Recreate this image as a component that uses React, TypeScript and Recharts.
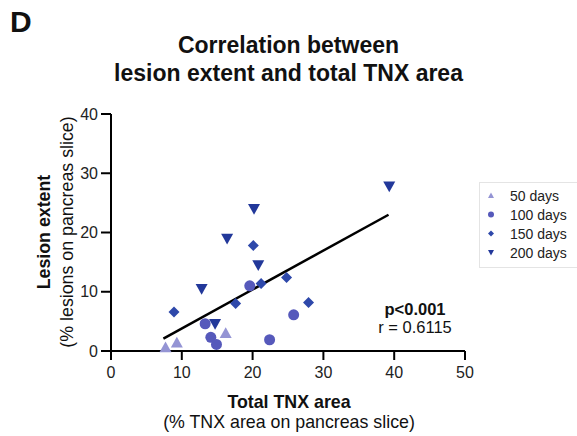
import React from "react";
import { ScatterChart, Scatter, XAxis, YAxis } from "recharts";

// [total TNX area %, lesion extent %]
const days50 = [
  { x: 7.7, y: 0.6 },
  { x: 9.3, y: 1.4 },
  { x: 16.2, y: 3.0 },
];
const days100 = [
  { x: 13.3, y: 4.6 },
  { x: 14.1, y: 2.3 },
  { x: 14.9, y: 1.1 },
  { x: 19.6, y: 11.0 },
  { x: 22.4, y: 1.9 },
  { x: 25.8, y: 6.1 },
];
const days150 = [
  { x: 8.9, y: 6.6 },
  { x: 17.6, y: 8.0 },
  { x: 20.1, y: 17.8 },
  { x: 21.2, y: 11.4 },
  { x: 24.8, y: 12.4 },
  { x: 27.9, y: 8.2 },
];
const days200 = [
  { x: 12.8, y: 10.5 },
  { x: 14.7, y: 4.6 },
  { x: 16.4, y: 19.0 },
  { x: 20.2, y: 24.0 },
  { x: 20.8, y: 14.5 },
  { x: 39.3, y: 27.8 },
];
const fitLine = [
  { x: 7.4, y: 2.1 },
  { x: 39.2, y: 23.0 },
];
const xTicks = [0, 10, 20, 30, 40, 50];
const yTicks = [0, 10, 20, 30, 40];

const C50 = "#9494d4";
const C100 = "#5659bb";
const C150 = "#2e48aa";
const C200 = "#22389a";
const FONT = "Arial, 'Liberation Sans', Helvetica, sans-serif";

const Tri = ({ cx, cy, fill, s = 6 }: any) => (
  <path d={`M${cx},${cy - s} L${cx + s},${cy + s * 0.8} L${cx - s},${cy + s * 0.8} Z`} fill={fill} />
);
const DownTri = ({ cx, cy, fill, s = 6 }: any) => (
  <path d={`M${cx - s},${cy - s * 0.8} L${cx + s},${cy - s * 0.8} L${cx},${cy + s} Z`} fill={fill} />
);
const Dot = ({ cx, cy, fill, s = 5.5 }: any) => <circle cx={cx} cy={cy} r={s} fill={fill} />;
const Diamond = ({ cx, cy, fill, s = 5.5 }: any) => (
  <path d={`M${cx},${cy - s} L${cx + s},${cy} L${cx},${cy + s} L${cx - s},${cy} Z`} fill={fill} />
);

const legendItems = [
  { label: "50 days", color: C50, Shape: Tri },
  { label: "100 days", color: C100, Shape: Dot },
  { label: "150 days", color: C150, Shape: Diamond },
  { label: "200 days", color: C200, Shape: DownTri },
];

export default function App() {
  return (
    <div style={{ position: "absolute", left: 0, top: 0, width: 577, height: 436, background: "#fff", fontFamily: FONT, color: "#111" }}>
      <div style={{ position: "absolute", left: 10, top: 5, fontSize: 30, fontWeight: 700 }}>D</div>
      <div
        style={{
          position: "absolute",
          left: 0,
          width: 577,
          top: 31,
          textAlign: "center",
          fontSize: 23,
          fontWeight: 700,
          lineHeight: "28px",
        }}
      >
        Correlation between
        <br />
        lesion extent and total TNX area
      </div>

      <ScatterChart width={577} height={436} margin={{ top: 114, right: 112, bottom: 55, left: 71 }}>
        <XAxis
          type="number"
          dataKey="x"
          domain={[0, 50]}
          ticks={xTicks}
          height={30}
          axisLine={{ stroke: "#000", strokeWidth: 2 }}
          tickLine={{ stroke: "#000", strokeWidth: 2 }}
          tickSize={9}
          tickMargin={7}
          tick={{ fill: "#222", fontSize: 16, fontFamily: FONT }}
        />
        <YAxis
          type="number"
          dataKey="y"
          domain={[0, 40]}
          ticks={yTicks}
          width={40}
          axisLine={{ stroke: "#000", strokeWidth: 2 }}
          tickLine={{ stroke: "#000", strokeWidth: 2 }}
          tickSize={10}
          tickMargin={3}
          tick={{ fill: "#222", fontSize: 16, fontFamily: FONT }}
        />
        <Scatter data={fitLine} line={{ stroke: "#000", strokeWidth: 2.5 }} shape={() => <g />} isAnimationActive={false} />
        <Scatter data={days50} fill={C50} shape={Tri} isAnimationActive={false} />
        <Scatter data={days100} fill={C100} shape={Dot} isAnimationActive={false} />
        <Scatter data={days150} fill={C150} shape={Diamond} isAnimationActive={false} />
        <Scatter data={days200} fill={C200} shape={DownTri} isAnimationActive={false} />
      </ScatterChart>

      <div style={{ position: "absolute", left: 340, width: 150, top: 300, textAlign: "center", fontSize: 16.5, lineHeight: "18px" }}>
        <div style={{ fontWeight: 700 }}>p&lt;0.001</div>
        <div>r = 0.6115</div>
      </div>

      <div style={{ position: "absolute", left: 0, top: 232, width: 0, height: 0 }}>
        <div
          style={{
            position: "absolute",
            left: 56,
            top: 0,
            transform: "translate(-50%, -50%) rotate(-90deg)",
            whiteSpace: "nowrap",
            textAlign: "center",
            lineHeight: "23px",
            fontSize: 17.8,
          }}
        >
          <div style={{ fontWeight: 700 }}>Lesion extent</div>
          <div>(% lesions on pancreas slice)</div>
        </div>
      </div>

      <div style={{ position: "absolute", left: 0, width: 578, top: 392, textAlign: "center", lineHeight: "20px", fontSize: 17.8 }}>
        <div style={{ fontWeight: 700 }}>Total TNX area</div>
        <div>(% TNX area on pancreas slice)</div>
      </div>

      <div
        style={{
          position: "absolute",
          left: 479,
          top: 182,
          width: 100,
          height: 86,
          border: "1px solid #e4e4e4",
          boxSizing: "border-box",
          paddingTop: 3,
        }}
      >
        {legendItems.map((it) => (
          <div key={it.label} style={{ display: "flex", alignItems: "center", height: 19, fontSize: 14, color: "#222" }}>
            <svg width={30} height={19}>
              <it.Shape cx={11} cy={9.5} fill={it.color} s={3} />
            </svg>
            <span>{it.label}</span>
          </div>
        ))}
      </div>
    </div>
  );
}
